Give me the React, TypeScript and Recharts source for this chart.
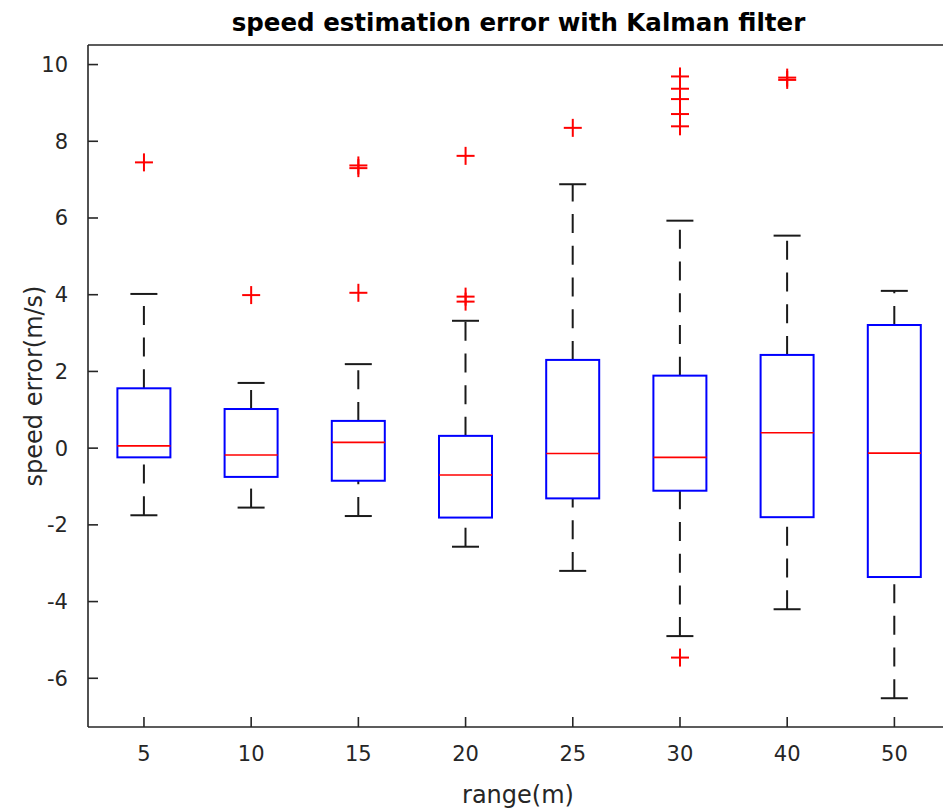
import { Bar, ComposedChart, Scatter, XAxis, YAxis } from "recharts";

const categories = ["5", "10", "15", "20", "25", "30", "40", "50"];
const whiskerLow = [-1.75, -1.55, -1.77, -2.57, -3.2, -4.9, -4.2, -6.52];
const q1 = [-0.24, -0.75, -0.85, -1.81, -1.31, -1.11, -1.8, -3.36];
const medians = [0.06, -0.18, 0.15, -0.7, -0.14, -0.24, 0.4, -0.13];
const q3 = [1.56, 1.02, 0.71, 0.32, 2.3, 1.89, 2.43, 3.21];
const whiskerHigh = [4.02, 1.7, 2.19, 3.32, 6.88, 5.93, 5.54, 4.1];
const outliers: number[][] = [
  [7.45],
  [3.99],
  [7.3, 7.37, 4.05],
  [7.62, 3.95, 3.82],
  [8.35],
  [9.69, 9.37, 9.1, 8.71, 8.39, -5.46],
  [9.6, 9.66],
  [],
];
const yTicks = [-6, -4, -2, 0, 2, 4, 6, 8, 10];
const xTicks = [1, 2, 3, 4, 5, 6, 7, 8];

const rows = categories.map((cat, i) => ({
  cat,
  x: i + 1,
  lo: whiskerLow[i],
  q1: q1[i],
  med: medians[i],
  q3: q3[i],
  hi: whiskerHigh[i],
}));
const medianPts = rows.map((r) => ({ x: r.x, y: r.med }));
const outlierPts = outliers.flatMap((vals, i) => vals.map((v) => ({ x: i + 1, y: v })));

const AXIS = "#262626";
const FONT = "DejaVu Sans";
const BOX_W = 53;
const CAP_W = 27;
const DASH = "19 12.7";

function span(props: any) {
  const { x, y, width, height } = props;
  const top = Math.min(y, y + height);
  const bottom = Math.max(y, y + height);
  return { x, width, top, bottom, cx: x + width / 2 };
}

function BoxShape(props: any) {
  const b = span(props);
  return (
    <rect
      x={b.x}
      y={b.top}
      width={b.width}
      height={b.bottom - b.top}
      fill="none"
      stroke="#0000ff"
      strokeWidth={2}
    />
  );
}

// upper whisker: dashes start at the box and run up to the cap
function UpperWhisker(props: any) {
  const b = span(props);
  return (
    <g stroke="#1a1a1a" strokeWidth={2} fill="none">
      <path d={`M${b.cx},${b.bottom}L${b.cx},${b.top}`} strokeDasharray={DASH} />
      <line x1={b.x} x2={b.x + b.width} y1={b.top} y2={b.top} />
    </g>
  );
}

// lower whisker: dashes start at the cap and run up to the box
function LowerWhisker(props: any) {
  const b = span(props);
  return (
    <g stroke="#1a1a1a" strokeWidth={2} fill="none">
      <path d={`M${b.cx},${b.bottom}L${b.cx},${b.top}`} strokeDasharray={DASH} />
      <line x1={b.x} x2={b.x + b.width} y1={b.bottom} y2={b.bottom} />
    </g>
  );
}

function MedianShape(props: any) {
  const { cx, cy } = props;
  return (
    <line x1={cx - BOX_W / 2} x2={cx + BOX_W / 2} y1={cy} y2={cy} stroke="#ff0000" strokeWidth={1.6} />
  );
}

function PlusShape(props: any) {
  const { cx, cy } = props;
  return (
    <g stroke="#ff0000" strokeWidth={2}>
      <line x1={cx - 9} x2={cx + 9} y1={cy} y2={cy} />
      <line x1={cx} x2={cx} y1={cy - 9} y2={cy + 9} />
    </g>
  );
}

const tickStyle = { fontSize: 21, fill: AXIS, fontFamily: FONT };

export default function App() {
  return (
    <div
      style={{
        position: "absolute",
        left: 0,
        top: 0,
        width: 943,
        height: 812,
        overflow: "hidden",
        background: "#fff",
        fontFamily: FONT,
      }}
    >
      <div
        style={{
          position: "absolute",
          left: 0,
          top: 11,
          width: 1037,
          textAlign: "center",
          fontSize: 24.5,
          lineHeight: 1,
          fontWeight: "bold",
          color: "#000",
        }}
      >
        speed estimation error with Kalman filter
      </div>
      <ComposedChart width={950} height={812} data={rows} margin={{ top: 44, right: 1, bottom: 0, left: 0 }}>
        <XAxis
          xAxisId="num"
          type="number"
          dataKey="x"
          domain={[0.478, 8.5]}
          ticks={xTicks}
          allowDataOverflow
          tickFormatter={(v) => categories[v - 1]}
          height={85}
          tickSize={-10}
          tickMargin={29}
          stroke={AXIS}
          strokeWidth={1.6}
          tick={tickStyle}
          label={{ value: "range(m)", position: "insideBottom", offset: 9, fill: AXIS, fontSize: 24, fontFamily: FONT }}
        />
        <XAxis
          xAxisId="top"
          orientation="top"
          type="number"
          domain={[0.478, 8.5]}
          ticks={xTicks}
          allowDataOverflow
          height={1}
          tick={false}
          tickSize={-10}
          stroke={AXIS}
          strokeWidth={1.6}
        />
        <XAxis xAxisId="c1" dataKey="cat" hide height={0} padding={{ left: 2.4, right: 0 }} />
        <XAxis xAxisId="c2" dataKey="cat" hide height={0} padding={{ left: 2.4, right: 0 }} />
        <XAxis xAxisId="c3" dataKey="cat" hide height={0} padding={{ left: 2.4, right: 0 }} />
        <YAxis
          type="number"
          domain={[-7.27, 10.51]}
          ticks={yTicks}
          allowDataOverflow
          width={88}
          tickSize={-10}
          tickMargin={30}
          stroke={AXIS}
          strokeWidth={1.6}
          tick={tickStyle}
          label={{
            value: "speed error(m/s)",
            angle: -90,
            position: "insideLeft",
            offset: 33,
            style: { textAnchor: "middle" },
            fill: AXIS,
            fontSize: 24,
            fontFamily: FONT,
          }}
        />
        <YAxis
          yAxisId="r"
          orientation="right"
          type="number"
          domain={[-7.27, 10.51]}
          ticks={yTicks}
          allowDataOverflow
          width={1}
          tick={false}
          tickSize={-10}
          stroke={AXIS}
          strokeWidth={1.6}
        />
        <Bar
          xAxisId="c1"
          dataKey={(d: any) => [d.q3, d.hi]}
          barSize={CAP_W}
          shape={<UpperWhisker />}
          isAnimationActive={false}
        />
        <Bar
          xAxisId="c2"
          dataKey={(d: any) => [d.lo, d.q1]}
          barSize={CAP_W}
          shape={<LowerWhisker />}
          isAnimationActive={false}
        />
        <Bar
          xAxisId="c3"
          dataKey={(d: any) => [d.q1, d.q3]}
          barSize={BOX_W}
          shape={<BoxShape />}
          isAnimationActive={false}
        />
        <Scatter xAxisId="num" data={medianPts} dataKey="y" shape={<MedianShape />} isAnimationActive={false} />
        <Scatter xAxisId="num" data={outlierPts} dataKey="y" shape={<PlusShape />} isAnimationActive={false} />
      </ComposedChart>
    </div>
  );
}
